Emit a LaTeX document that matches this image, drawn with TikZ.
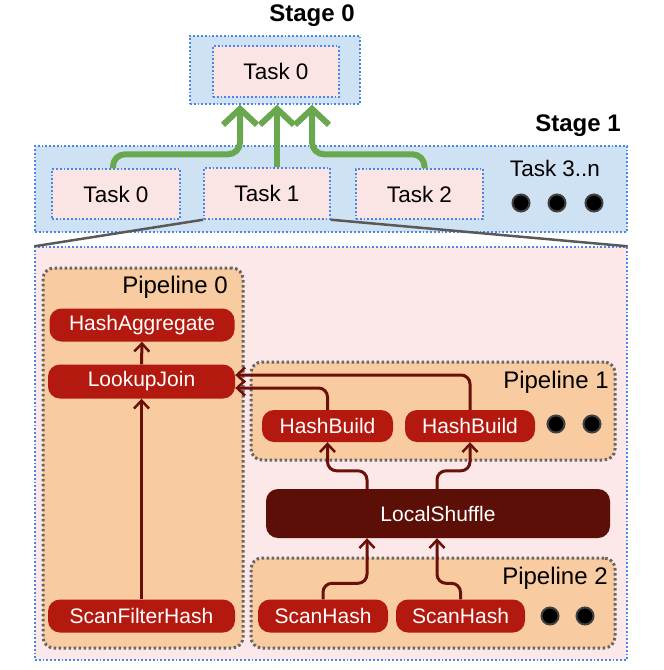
\documentclass[tikz,border=0pt]{standalone}
\usepackage{fontspec}
\setmainfont{Liberation Sans}
\usetikzlibrary{arrows.meta,calc}
\definecolor{stageblue}{HTML}{CFE2F3}
\definecolor{dotblue}{HTML}{4A86E8}
\definecolor{taskpink}{HTML}{FBE4E4}
\definecolor{bigpink}{HTML}{FCE8E8}
\definecolor{pipeorange}{HTML}{F8CBA0}
\definecolor{opred}{HTML}{B3190F}
\definecolor{shufred}{HTML}{5C0F06}
\definecolor{arrred}{HTML}{6B1008}
\definecolor{arrgreen}{HTML}{6AA84F}
\definecolor{pipegray}{HTML}{666666}
\tikzset{
  bluedot/.style={draw=dotblue, line width=1.4pt, dash pattern=on 1.8pt off 2pt},
  stagebox/.style={bluedot, fill=stageblue, inner sep=0pt},
  taskbox/.style={bluedot, fill=taskpink, inner sep=0pt, font=\fontsize{22.5}{26}\selectfont},
  pipebox/.style={draw=pipegray, line width=3pt, dash pattern=on 2.5pt off 2.5pt, fill=pipeorange, rounded corners=11pt, inner sep=0pt},
  opbox/.style={fill=opred, text=white, rounded corners=12pt, inner sep=0pt, font=\fontsize{21}{25}\selectfont},
  shufbox/.style={fill=shufred, text=white, rounded corners=12pt, inner sep=0pt, font=\fontsize{21}{25}\selectfont},
  pipelabel/.style={font=\fontsize{24}{28}\selectfont, inner sep=0pt},
  stagelabel/.style={font=\bfseries\fontsize{24}{28}\selectfont, inner sep=0pt},
  blackdot/.style={circle, fill=black, draw=black!75, line width=2pt, minimum size=17pt, inner sep=0pt},
  redarrow/.style={draw=arrred, line width=3pt, rounded corners=9pt, -{Straight Barb[length=8pt,width=15pt,line width=2.5pt]}},
  greenarrow/.style={draw=arrgreen, line width=6pt, rounded corners=12pt, -{Straight Barb[length=16pt,width=34pt,line width=6pt]}},
  grayline/.style={draw=black!65, line width=2.5pt}
}
\begin{document}
\begin{tikzpicture}[x=1pt,y=-1pt]
\useasboundingbox (0,0) rectangle (664,670);
% Stage 0
\node[stagelabel] (s0lab) at (312,16) {Stage 0};
\node[stagebox, minimum width=170pt, minimum height=68pt] (stage0) at (275,70) {};
\node[taskbox, minimum width=126pt, minimum height=51pt] (t00) at (276,71.5) {Task 0};
% Stage 1
\node[stagelabel] (s1lab) at (578,126) {Stage 1};
\node[stagebox, minimum width=592pt, minimum height=86pt] (stage1) at (331,189) {};
\node[taskbox, minimum width=128pt, minimum height=50pt] (t10) at (116,194) {Task 0};
\node[taskbox, minimum width=126pt, minimum height=51pt] (t11) at (267,193.5) {Task 1};
\node[taskbox, minimum width=127pt, minimum height=50pt] (t12) at (419.5,194) {Task 2};
\node[pipelabel, font=\fontsize{22.5}{26}\selectfont] (t3n) at (555,168) {Task 3..n};
\node[blackdot] (d1) at (521,203) {};
\node[blackdot] (d2) at (557,203) {};
\node[blackdot] (d3) at (594,203) {};
% green arrows
\draw[greenarrow] ([xshift=-3pt]t10.north) -- ++(0,-14) -| ([xshift=-35pt]stage0.south);
\draw[greenarrow] ([xshift=10pt]t11.north) -- ([xshift=2pt]stage0.south);
\draw[greenarrow] ([xshift=5pt]t12.north) -- ++(0,-14) -| ([xshift=37pt]stage0.south);
% big task box
\node[stagebox, fill=bigpink, minimum width=592pt, minimum height=413pt] (big) at (331,453.5) {};
\draw[grayline] (t11.south west) -- (big.north west);
\draw[grayline] (t11.south east) -- (big.north east);
% Pipeline 0
\node[pipebox, minimum width=200pt, minimum height=380pt] (p0) at (143,458) {};
\node[pipelabel] (p0lab) at (175,287) {Pipeline 0};
\node[opbox, minimum width=185pt, minimum height=33pt] (ha) at (142,325) {HashAggregate};
\node[opbox, minimum width=187pt, minimum height=34pt] (lj) at (141.5,381.5) {LookupJoin};
\node[opbox, minimum width=187pt, minimum height=33pt] (sfh) at (141.5,616) {ScanFilterHash};
% Pipeline 1
\node[pipebox, minimum width=364pt, minimum height=98pt] (p1) at (433,411) {};
\node[pipelabel] (p1lab) at (556,382) {Pipeline 1};
\node[opbox, minimum width=131pt, minimum height=32pt] (hb1) at (327.5,426) {HashBuild};
\node[opbox, minimum width=130pt, minimum height=32pt] (hb2) at (470,426) {HashBuild};
\node[blackdot] (d4) at (556,424) {};
\node[blackdot] (d5) at (592,424) {};
% LocalShuffle
\node[shufbox, minimum width=344pt, minimum height=49pt] (ls) at (438,513.5) {LocalShuffle};
% Pipeline 2
\node[pipebox, minimum width=364pt, minimum height=90pt] (p2) at (433,603) {};
\node[pipelabel] (p2lab) at (555,578) {Pipeline 2};
\node[opbox, minimum width=130pt, minimum height=33pt] (sh1) at (323,616) {ScanHash};
\node[opbox, minimum width=129pt, minimum height=33pt] (sh2) at (460.5,616) {ScanHash};
\node[blackdot] (d6) at (550,616) {};
\node[blackdot] (d7) at (585,616) {};
% red arrows
\draw[redarrow] (sfh.north) -- (lj.south);
\draw[redarrow] (lj.north) -- (ha.south);
\draw[redarrow] (hb2.north) |- ([yshift=6.5pt]lj.east);
\draw[redarrow] (hb1.north) |- ([yshift=-6.5pt]lj.east);
\draw[redarrow] ([xshift=-71pt]ls.north) -- ++(0,-18) -| (hb1.south);
\draw[redarrow] ([xshift=-1pt]ls.north) -- ++(0,-18) -| (hb2.south);
\draw[redarrow] (sh1.north) -- ++(0,-16) -| ([xshift=-71pt]ls.south);
\draw[redarrow] (sh2.north) -- ++(0,-16) -| ([xshift=-1pt]ls.south);
\end{tikzpicture}
\end{document}
